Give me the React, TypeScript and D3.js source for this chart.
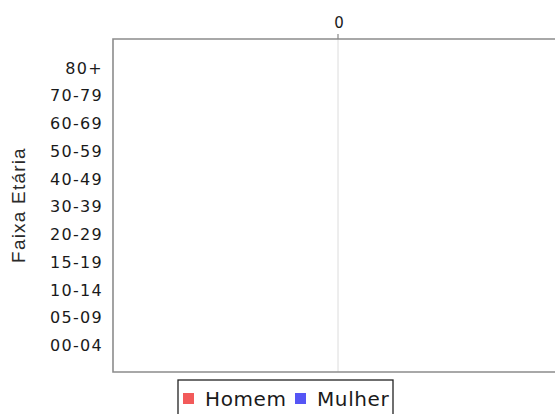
import React from "react";
import * as d3 from "d3";

const categories = ["80+", "70-79", "60-69", "50-59", "40-49", "30-39", "20-29", "15-19", "10-14", "05-09", "00-04"];
const homemValues = [0, 0, 0, 0, 0, 0, 0, 0, 0, 0, 0];
const mulherValues = [0, 0, 0, 0, 0, 0, 0, 0, 0, 0, 0];
const xTicks = [0];
const seriesNames = ["Homem", "Mulher"];
const seriesColors = ["#f25a5a", "#5555f5"];
const yTitle = "Faixa Etária";

const W = 555;
const H = 414;
const plot = { left: 113, top: 39, right: 563, bottom: 372 };

export default function App() {
  const x = d3.scaleLinear().domain([-1, 1]).range([plot.left, plot.right]);
  const y = d3.scalePoint<string>().domain(categories).range([plot.top, plot.bottom]).padding(1);
  const band = 20;
  const font = "'DejaVu Sans', Verdana, sans-serif";

  const legendX = 178;
  const legendItems = [
    { sq: 183, tx: 205 },
    { sq: 295, tx: 317 },
  ];

  return (
    <svg width={W} height={H} style={{ position: "absolute", left: 0, top: 0, background: "#fff" }}>
      <rect x={0} y={0} width={W} height={H} fill="#fff" />
      {xTicks.map((t) => (
        <line key={"g" + t} x1={x(t)} x2={x(t)} y1={plot.top} y2={plot.bottom} stroke="#dcdcdc" strokeWidth={1} />
      ))}
      {categories.map((c, i) => (
        <g key={c}>
          <rect x={x(-homemValues[i])} y={(y(c) as number) - band / 2} width={x(0) - x(-homemValues[i])} height={band} fill={seriesColors[0]} />
          <rect x={x(0)} y={(y(c) as number) - band / 2} width={x(mulherValues[i]) - x(0)} height={band} fill={seriesColors[1]} />
        </g>
      ))}
      <path
        d={`M${plot.right},${plot.top}H${plot.left}V${plot.bottom}H${plot.right}`}
        fill="none"
        stroke="#8c8c8c"
        strokeWidth={1.6}
      />
      {xTicks.map((t) => (
        <g key={"t" + t}>
          <line x1={x(t)} x2={x(t)} y1={plot.top - 5} y2={plot.top} stroke="#888" strokeWidth={1.2} />
          <text x={x(t) + 1} y={28} textAnchor="middle" fontFamily={font} fontSize={15} fill="#1a1a1a">
            {t}
          </text>
        </g>
      ))}
      {categories.map((c) => (
        <text
          key={"l" + c}
          x={103}
          y={(y(c) as number) + 1}
          dy="0.36em"
          textAnchor="end"
          fontFamily={font}
          fontSize={16}
          letterSpacing={1.3}
          fill="#1a1a1a"
        >
          {c}
        </text>
      ))}
      <text
        transform={`translate(25,205) rotate(-90)`}
        textAnchor="middle"
        fontFamily="'Liberation Sans', Arial, sans-serif"
        fontSize={19}
        letterSpacing={1.2}
        fill="#2a2a2a"
      >
        {yTitle}
      </text>
      <rect x={legendX} y={380} width={215} height={40} fill="#fff" stroke="#222" strokeWidth={1.3} />
      {seriesNames.map((n, i) => (
        <g key={n}>
          <rect x={legendItems[i].sq} y={393} width={11} height={11} fill={seriesColors[i]} />
          <text x={legendItems[i].tx} y={406} fontFamily={font} fontSize={20} letterSpacing={0.6} fill="#1a1a1a">
            {n}
          </text>
        </g>
      ))}
    </svg>
  );
}
